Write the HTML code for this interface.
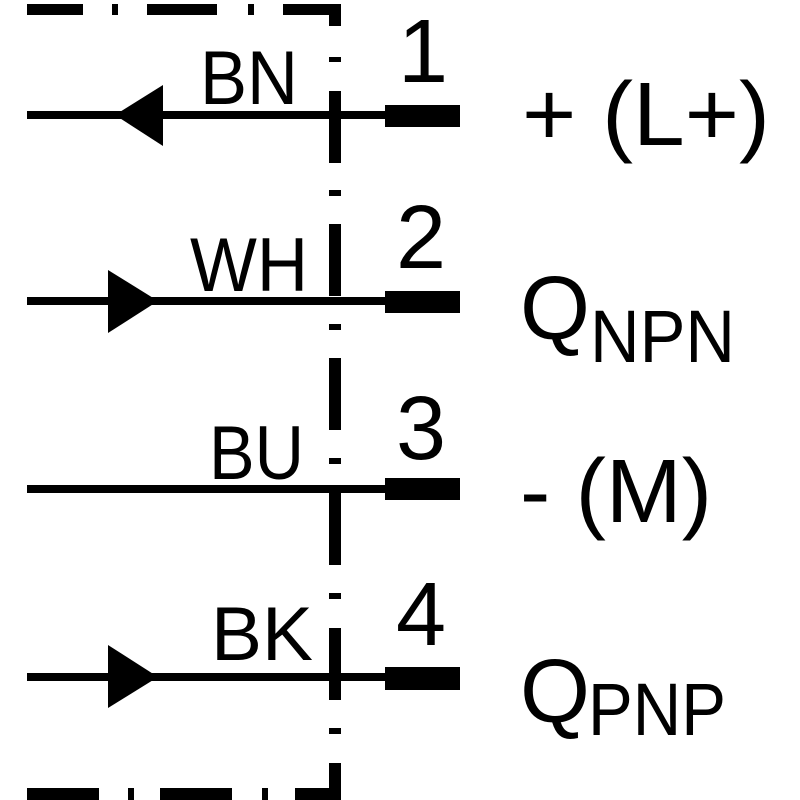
<!DOCTYPE html>
<html><head><style>html,body{margin:0;padding:0;background:#fff}svg{display:block}</style></head>
<body>
<svg width="800" height="800" viewBox="0 0 800 800" xmlns="http://www.w3.org/2000/svg" font-family="Liberation Sans, sans-serif">
<g fill="#000">
<!-- top dashed border -->
<rect x="27" y="4" width="56" height="11"/>
<rect x="112" y="4" width="6" height="11"/>
<rect x="147" y="4" width="70" height="11"/>
<rect x="248" y="4" width="6" height="11"/>
<rect x="283" y="4" width="58" height="11"/>
<!-- vertical dashed -->
<rect x="329" y="4" width="12" height="22"/>
<rect x="329" y="57" width="12" height="5"/>
<rect x="329" y="91" width="12" height="72"/>
<rect x="329" y="190" width="12" height="6"/>
<rect x="329" y="224" width="12" height="72"/>
<rect x="329" y="324" width="12" height="6"/>
<rect x="329" y="358" width="12" height="72"/>
<rect x="329" y="458" width="12" height="6"/>
<rect x="329" y="493" width="12" height="72"/>
<rect x="329" y="593" width="12" height="6"/>
<rect x="329" y="628" width="12" height="72"/>
<rect x="329" y="728" width="12" height="6"/>
<rect x="329" y="763" width="12" height="37"/>
<!-- bottom dashed -->
<rect x="27" y="788" width="72" height="12"/>
<rect x="128" y="788" width="6" height="12"/>
<rect x="160" y="788" width="72" height="12"/>
<rect x="262" y="788" width="6" height="12"/>
<rect x="295" y="788" width="46" height="12"/>
<!-- lines -->
<rect x="27" y="111" width="360" height="8"/>
<rect x="27" y="297" width="360" height="8"/>
<rect x="27" y="485" width="360" height="8"/>
<rect x="27" y="673" width="360" height="8"/>
<!-- terminals -->
<rect x="385" y="105" width="75" height="22"/>
<rect x="385" y="291" width="75" height="22"/>
<rect x="385" y="478" width="75" height="22"/>
<rect x="385" y="667" width="75" height="23"/>
<!-- arrows -->
<polygon points="115,115 163,85 163,146"/>
<polygon points="108,270 158,301 108,333"/>
<polygon points="108,645 158,677 108,708"/>
<!-- labels -->
<text x="200" y="104" font-size="76" textLength="98" lengthAdjust="spacingAndGlyphs">BN</text>
<text x="190" y="291" font-size="76" textLength="118" lengthAdjust="spacingAndGlyphs">WH</text>
<text x="209" y="479" font-size="76" textLength="95" lengthAdjust="spacingAndGlyphs">BU</text>
<text x="211" y="660" font-size="76" textLength="102" lengthAdjust="spacingAndGlyphs">BK</text>
<text x="398" y="82" font-size="90">1</text>
<text x="396" y="268" font-size="90">2</text>
<text x="396" y="459" font-size="90">3</text>
<text x="396" y="645" font-size="90">4</text>
<text x="522" y="145" font-size="90" textLength="248" lengthAdjust="spacingAndGlyphs">+ (L+)</text>
<text x="520" y="339" font-size="90">Q</text>
<text x="590" y="362" font-size="74" textLength="145" lengthAdjust="spacingAndGlyphs">NPN</text>
<text x="520" y="522" font-size="90" textLength="192" lengthAdjust="spacingAndGlyphs">- (M)</text>
<text x="520" y="722" font-size="90">Q</text>
<text x="588" y="735" font-size="74" textLength="138" lengthAdjust="spacingAndGlyphs">PNP</text>
</g>
</svg>
</body></html>
